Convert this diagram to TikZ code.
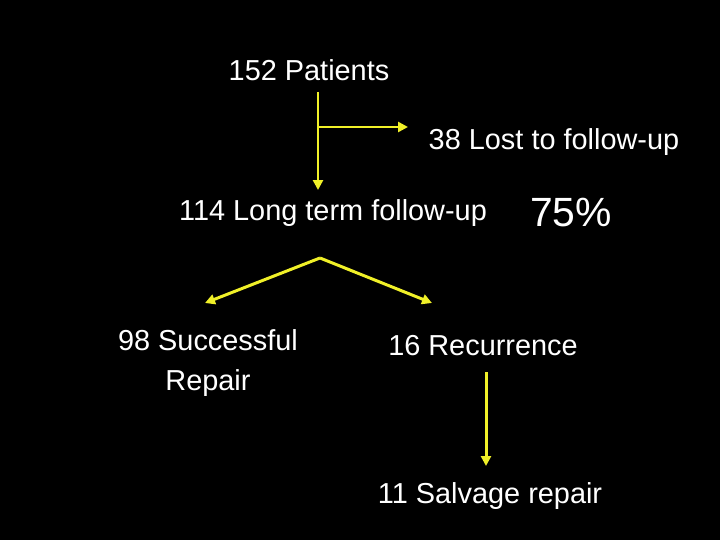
\documentclass[tikz,border=0pt]{standalone}
\usepackage{fontspec}
\setmainfont{Liberation Sans}
\usetikzlibrary{arrows.meta}
\definecolor{arrowyellow}{RGB}{240,240,40}
\tikzset{
  lbl/.style={white,font=\fontsize{29}{36}\selectfont,align=center,inner sep=0pt},
  link/.style={arrowyellow,line width=3pt,-{Triangle[length=10pt,width=10pt]}}
}
\begin{document}
\begin{tikzpicture}[x=1bp,y=-1bp]
\fill[black] (0,0) rectangle (720,540);

\node[lbl] (all) at (309,70) {152 Patients};
\node[lbl] (lost) at (554,142) {38 Lost to follow-up};
\node[lbl] (long) at (333,213) {114 Long term follow-up};
\node[lbl,font=\fontsize{41}{48}\selectfont] (pct) at (571,213) {75\%};
\node[lbl,font=\fontsize{29}{41}\selectfont] (ok) at (208,363) {98 Successful\\Repair};
\node[lbl] (rec) at (483,346) {16 Recurrence};
\node[lbl] (salv) at (490,496) {11 Salvage repair};

\coordinate (split) at (318,127);
\coordinate (fork) at (320,258);
\coordinate (okend) at (205,303);
\coordinate (recend) at (432,303);
\coordinate (lostend) at (408,127);

\draw[link] (318,92) -- (318,190);
\draw[link] (split) -- (lostend);
\draw[link] (fork) -- (okend);
\draw[link] (fork) -- (recend);
\draw[link] (486,372) -- (486,466);
\end{tikzpicture}
\end{document}
